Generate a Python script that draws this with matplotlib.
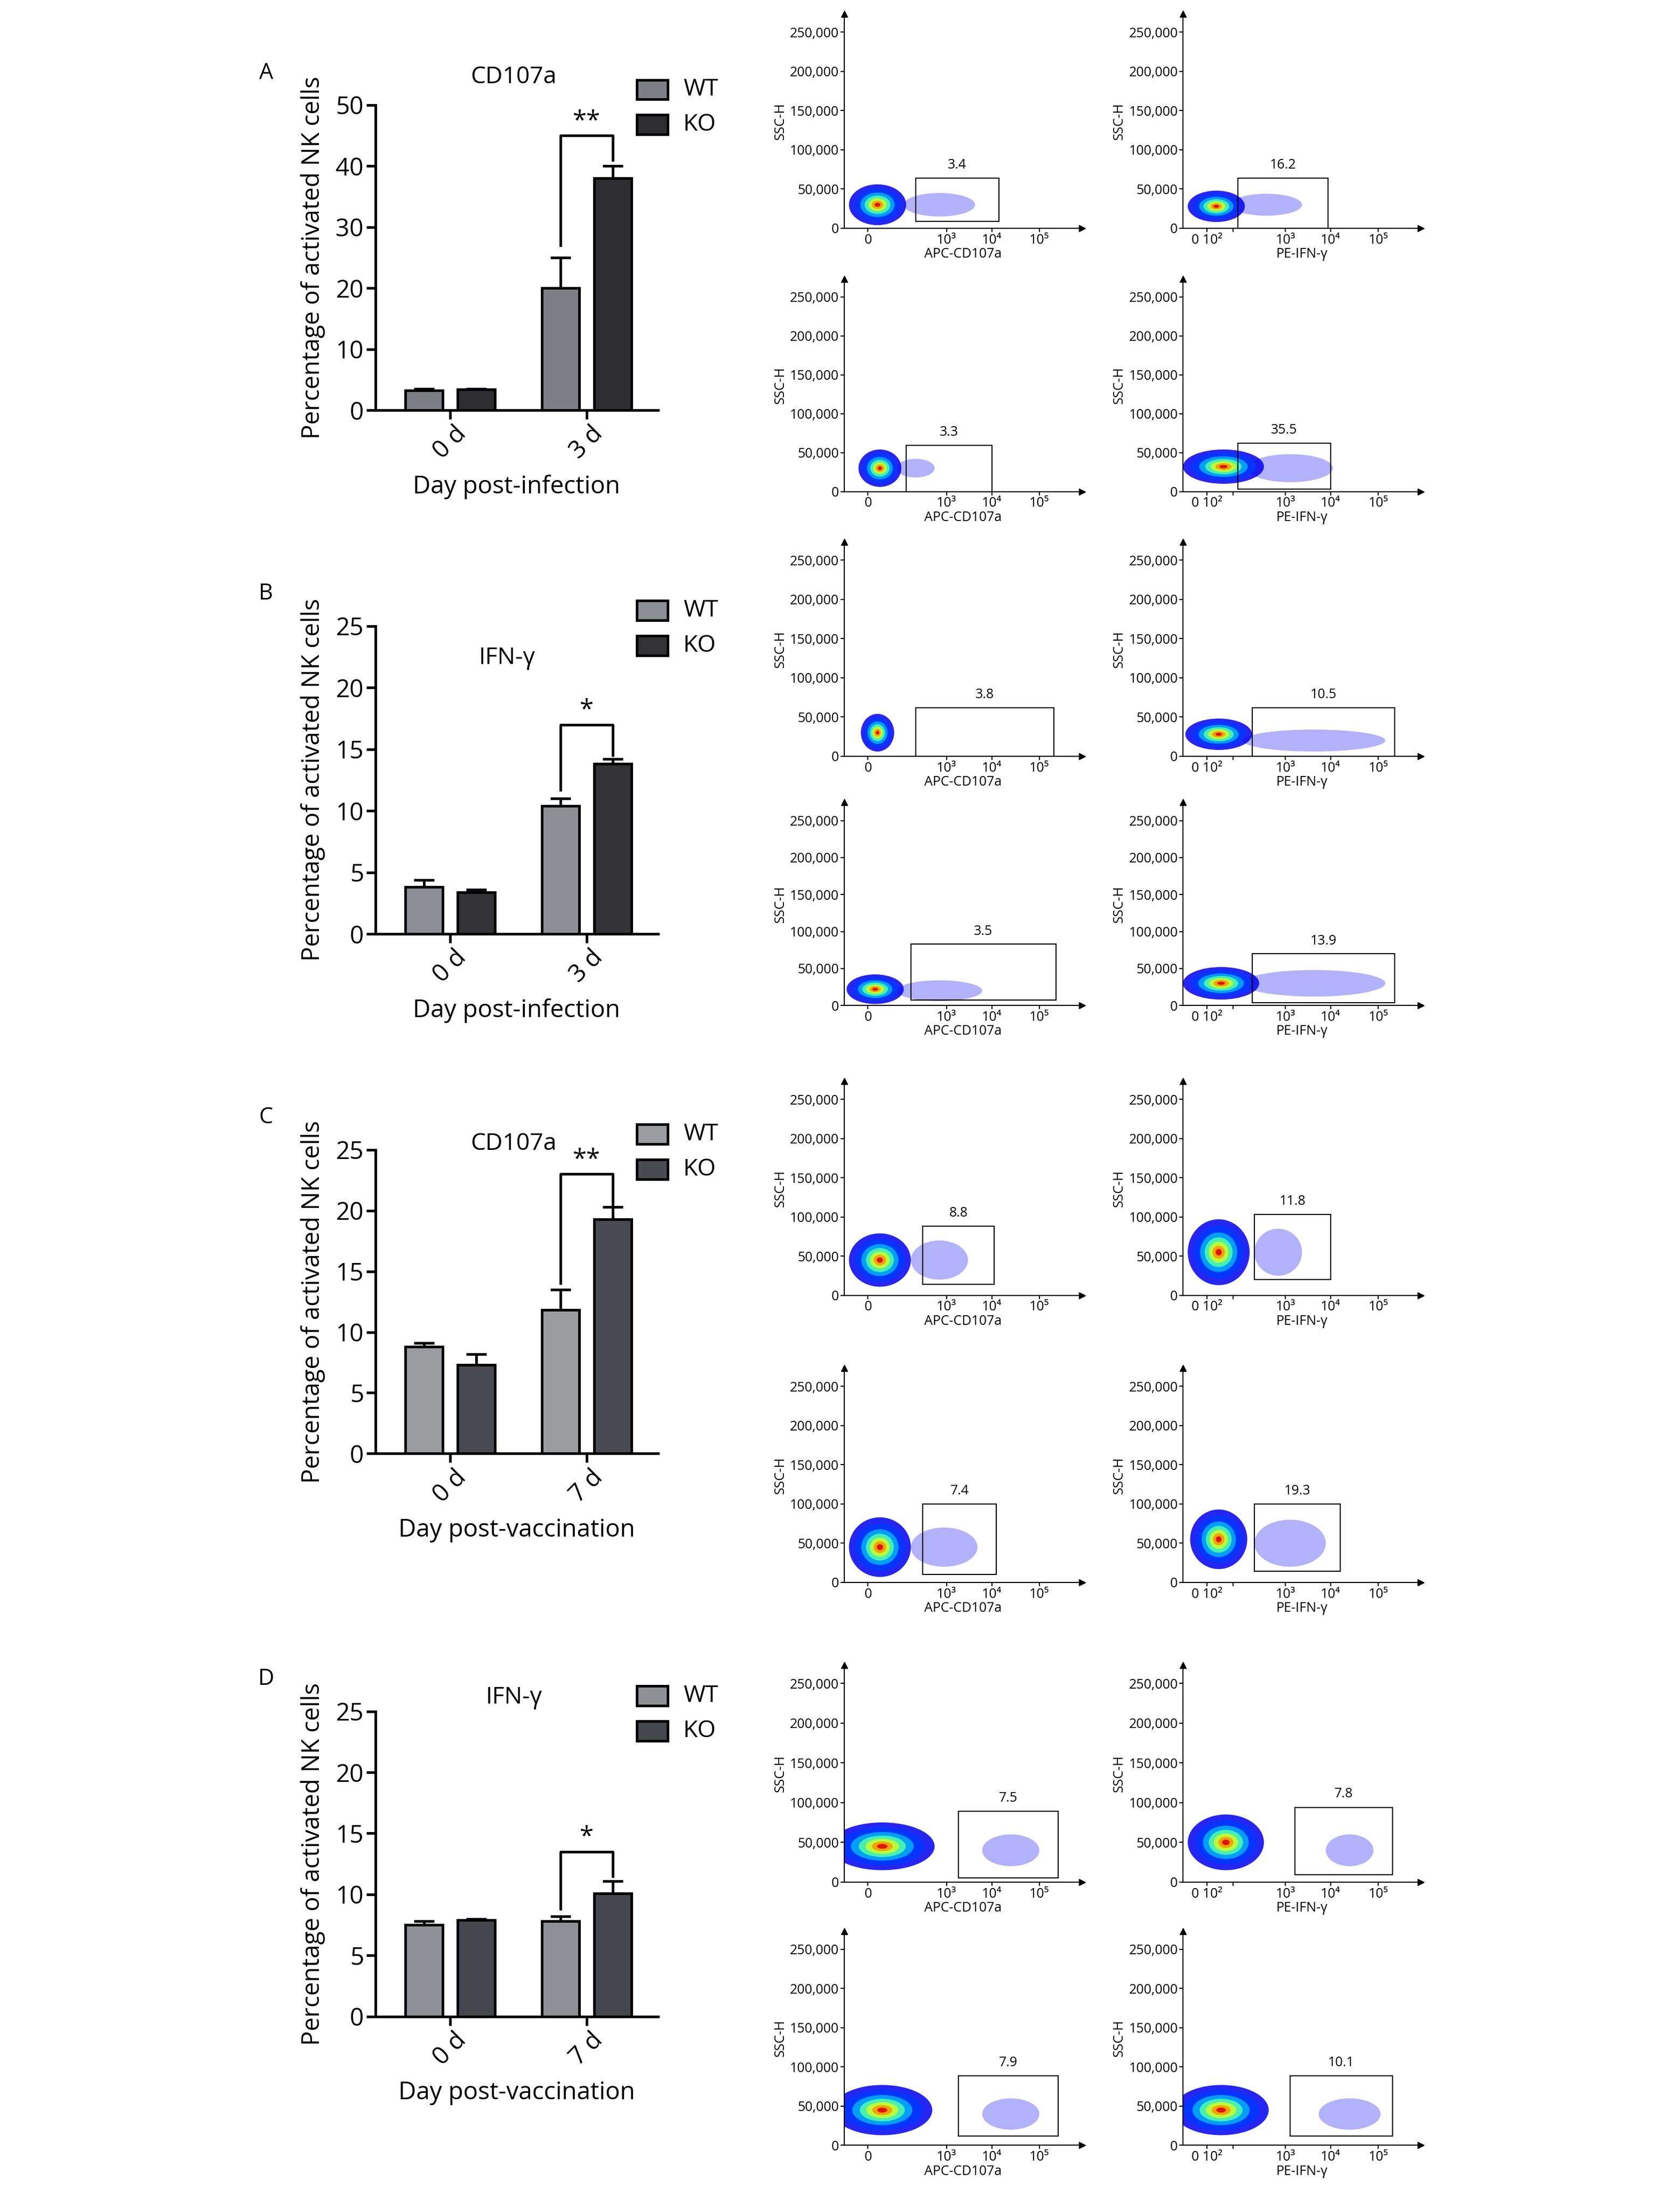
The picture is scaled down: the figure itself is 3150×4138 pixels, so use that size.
import matplotlib
matplotlib.use("Agg")
import matplotlib.pyplot as plt
from matplotlib.patches import Ellipse, Rectangle
from matplotlib import cm

plt.rcParams['font.family'] = ['Open Sans', 'DejaVu Sans']

# ---------------- data ----------------
panel_letters = ["A", "B", "C", "D"]
panel_titles = ["CD107a", "IFN-γ", "CD107a", "IFN-γ"]
day_labels = [["0 d", "3 d"], ["0 d", "3 d"], ["0 d", "7 d"], ["0 d", "7 d"]]
xlabels = ["Day post-infection", "Day post-infection", "Day post-vaccination", "Day post-vaccination"]
wt_vals = [[3.3, 20.0], [3.8, 10.4], [8.8, 11.8], [7.5, 7.8]]
wt_err = [[0.2, 5.0], [0.6, 0.6], [0.3, 1.7], [0.3, 0.4]]
ko_vals = [[3.4, 38.0], [3.4, 13.8], [7.3, 19.3], [7.9, 10.1]]
ko_err = [[0.1, 2.0], [0.2, 0.4], [0.9, 1.0], [0.1, 1.0]]
ymaxes = [50, 25, 25, 25]
sig_marks = ["**", "*", "**", "*"]
sig_wt_low = [27, 11.7, 14.0, 8.8]
sig_top = [45, 17.0, 23.0, 13.5]
sig_ko_low = [41, 14.5, 20.5, 11.5]
wt_colors = ["#7d7f86", "#8c8e93", "#9a9ca0", "#8e9095"]
ko_colors = ["#2e2e30", "#333335", "#4a4a52", "#46464d"]

flow_xtick_labels = ["0", "10²", "10³", "10⁴", "10⁵"]
flow_xtick_pos = [0.10, 0.21, 0.43, 0.62, 0.82]
flow_gates = [
    [0.30, 0.65, 9000, 64000], [0.23, 0.61, 0, 64000],
    [0.26, 0.62, 0, 59000], [0.23, 0.62, 3000, 62000],
    [0.30, 0.88, 0, 62000], [0.29, 0.89, 0, 62000],
    [0.28, 0.89, 7500, 83000], [0.29, 0.89, 3500, 70000],
    [0.33, 0.63, 14000, 88000], [0.30, 0.62, 20000, 103000],
    [0.33, 0.64, 10000, 100000], [0.30, 0.66, 14000, 100000],
    [0.48, 0.90, 5000, 89000], [0.47, 0.88, 9000, 94000],
    [0.48, 0.90, 12000, 89000], [0.45, 0.88, 12000, 89000],
]
flow_labels = ["3.4", "16.2", "3.3", "35.5", "3.8", "10.5", "3.5", "13.9",
               "8.8", "11.8", "7.4", "19.3", "7.5", "7.8", "7.9", "10.1"]
flow_main = [
    [0.14, 30000, 0.12, 26000], [0.14, 28000, 0.12, 20000],
    [0.15, 30000, 0.09, 24000], [0.17, 32000, 0.17, 22000],
    [0.14, 30000, 0.07, 24000], [0.15, 28000, 0.14, 20000],
    [0.13, 22000, 0.12, 20000], [0.16, 30000, 0.16, 22000],
    [0.15, 45000, 0.13, 34000], [0.15, 55000, 0.13, 42000],
    [0.15, 45000, 0.13, 38000], [0.15, 55000, 0.12, 38000],
    [0.16, 45000, 0.22, 30000], [0.18, 50000, 0.16, 35000],
    [0.16, 45000, 0.21, 32000], [0.16, 45000, 0.20, 32000],
]
flow_tail = [
    [0.40, 30000, 0.15, 15000], [0.35, 30000, 0.15, 14000],
    [0.30, 30000, 0.08, 12000], [0.45, 30000, 0.18, 18000],
    [0, 0, 0, 0], [0.55, 20000, 0.30, 14000],
    [0.40, 20000, 0.18, 14000], [0.55, 30000, 0.30, 18000],
    [0.40, 45000, 0.12, 25000], [0.40, 55000, 0.10, 30000],
    [0.42, 45000, 0.14, 25000], [0.45, 50000, 0.15, 30000],
    [0.70, 40000, 0.12, 20000], [0.70, 40000, 0.10, 20000],
    [0.70, 40000, 0.12, 20000], [0.70, 40000, 0.13, 20000],
]
flow_xlabels = ["APC-CD107a", "PE-IFN-γ"]

# ---------------- layout ----------------
W, H = 1200.0, 1576.0
fig = plt.figure(figsize=(31.5, 41.38), dpi=100)

def fr(x0, y0, x1, y1):
    return [x0 / W, 1 - y1 / H, (x1 - x0) / W, (y1 - y0) / H]

bar_y = [(75, 293), (447, 667), (821, 1038), (1222, 1440)]
title_pos = [(367, 55), (362, 470), (367, 817), (367, 1212)]
groups = [1.06, 2.99]
off, bw = 0.37, 0.53
lw = 3.5
for i in range(4):
    ytop, y0 = bar_y[i]
    ax = fig.add_axes(fr(268, ytop, 470, y0))
    ax.set_xlim(0, 4)
    ax.set_ylim(0, ymaxes[i])
    for g in range(2):
        ax.bar(groups[g] - off, wt_vals[i][g], bw, color=wt_colors[i], edgecolor="black", linewidth=lw)
        ax.bar(groups[g] + off, ko_vals[i][g], bw, color=ko_colors[i], edgecolor="black", linewidth=lw)
        ax.errorbar(groups[g] - off, wt_vals[i][g], yerr=[[0], [wt_err[i][g]]], fmt="none",
                    ecolor="black", elinewidth=lw, capsize=14, capthick=lw)
        ax.errorbar(groups[g] + off, ko_vals[i][g], yerr=[[0], [ko_err[i][g]]], fmt="none",
                    ecolor="black", elinewidth=lw, capsize=14, capthick=lw)
    xa, xb = groups[1] - off, groups[1] + off
    ax.plot([xa, xa, xb, xb], [sig_wt_low[i], sig_top[i], sig_top[i], sig_ko_low[i]],
            color="black", lw=lw, clip_on=False)
    ax.text((xa + xb) / 2, sig_top[i] + ymaxes[i] * 0.005, sig_marks[i], ha="center", va="bottom",
            fontsize=34)
    for s in ["top", "right"]:
        ax.spines[s].set_visible(False)
    for s in ["left", "bottom"]:
        ax.spines[s].set_linewidth(lw)
    step = 10 if ymaxes[i] == 50 else 5
    ax.set_yticks(range(0, ymaxes[i] + 1, step))
    ax.tick_params(axis="y", labelsize=33, width=lw, length=12)
    ax.set_xticks(groups)
    ax.set_xticklabels(day_labels[i], rotation=45, fontsize=33, ha="center", va="top")
    ax.tick_params(axis="x", width=lw, length=12)
    ax.set_ylabel("Percentage of activated NK cells", fontsize=33, labelpad=14)
    ax.set_xlabel(xlabels[i], fontsize=33, labelpad=14)
    fig.text(title_pos[i][0] / W, 1 - title_pos[i][1] / H, panel_titles[i], ha="center", va="center", fontsize=32)
    fig.text(190 / W, 1 - (bar_y[i][0] - 23) / H, panel_letters[i], fontsize=30, ha="center", va="center")
    for k, (lab, c) in enumerate([("WT", wt_colors[i]), ("KO", ko_colors[i])]):
        yy = ytop - 11 + 25 * k
        fig.patches.append(Rectangle(((455) / W, 1 - (yy + 7) / H), 22 / W, 14 / H, transform=fig.transFigure,
                                     facecolor=c, edgecolor="black", linewidth=lw))
        fig.text(488 / W, 1 - yy / H, lab, fontsize=32, va="center", ha="left")

# flow panels
col_x = [603, 845]
row_y = [(23, 163), (212, 351), (400, 540), (586, 718), (785, 925), (990, 1130), (1202, 1344), (1392, 1532)]
cols = cm.jet
levels = [(1.0, 0.1), (0.8, 0.18), (0.6, 0.3), (0.45, 0.45), (0.32, 0.6), (0.2, 0.75), (0.1, 0.92)]
for r in range(8):
    for c in range(2):
        idx = r * 2 + c
        y250, y0 = row_y[r]
        top_px = y250 - 13
        ax = fig.add_axes(fr(col_x[c], top_px, col_x[c] + 170, y0))
        ymax = 250000 * (y0 - top_px) / (y0 - y250)
        ax.set_xlim(0, 1)
        ax.set_ylim(0, ymax)
        tx, ty, trx, tryy = flow_tail[idx]
        if trx > 0:
            ax.add_patch(Ellipse((tx, ty), 2 * trx, 2 * tryy, facecolor=cols(0.1), alpha=0.3, lw=0))
        cx, cy, rx, ry = flow_main[idx]
        for sc, v in levels:
            ax.add_patch(Ellipse((cx, cy), 2 * rx * sc, 2 * ry * sc, facecolor=cols(v), lw=0, alpha=0.85))
        gx0, gx1, gy0, gy1 = flow_gates[idx]
        ax.add_patch(Rectangle((gx0, gy0), gx1 - gx0, gy1 - gy0, fill=False, edgecolor="black", lw=1.5))
        ax.text((gx0 + gx1) / 2, gy1 + ymax * 0.03, flow_labels[idx], ha="center", va="bottom", fontsize=18)
        for s in ["top", "right"]:
            ax.spines[s].set_visible(False)
        for s in ["left", "bottom"]:
            ax.spines[s].set_linewidth(1.5)
        ax.plot([0], [1], marker="^", color="black", markersize=9, transform=ax.transAxes, clip_on=False)
        ax.plot([1], [0], marker=">", color="black", markersize=9, transform=ax.transAxes, clip_on=False)
        ax.set_yticks(range(0, 250001, 50000))
        ax.set_yticklabels([f"{v:,}" for v in range(0, 250001, 50000)], fontsize=18)
        if c == 0:
            ax.set_xticks([flow_xtick_pos[0]] + flow_xtick_pos[2:])
            ax.set_xticklabels([flow_xtick_labels[0]] + flow_xtick_labels[2:], fontsize=18)
        else:
            ax.set_xticks(flow_xtick_pos)
            ax.set_xticklabels(["0 10²", "", "10³", "10⁴", "10⁵"], fontsize=18)
        ax.tick_params(width=1.5, length=5, pad=2)
        ax.set_ylabel("SSC-H", fontsize=18, labelpad=4)
        ax.set_xlabel(flow_xlabels[c], fontsize=18, labelpad=1)

fig.savefig("out.png", dpi=100)
